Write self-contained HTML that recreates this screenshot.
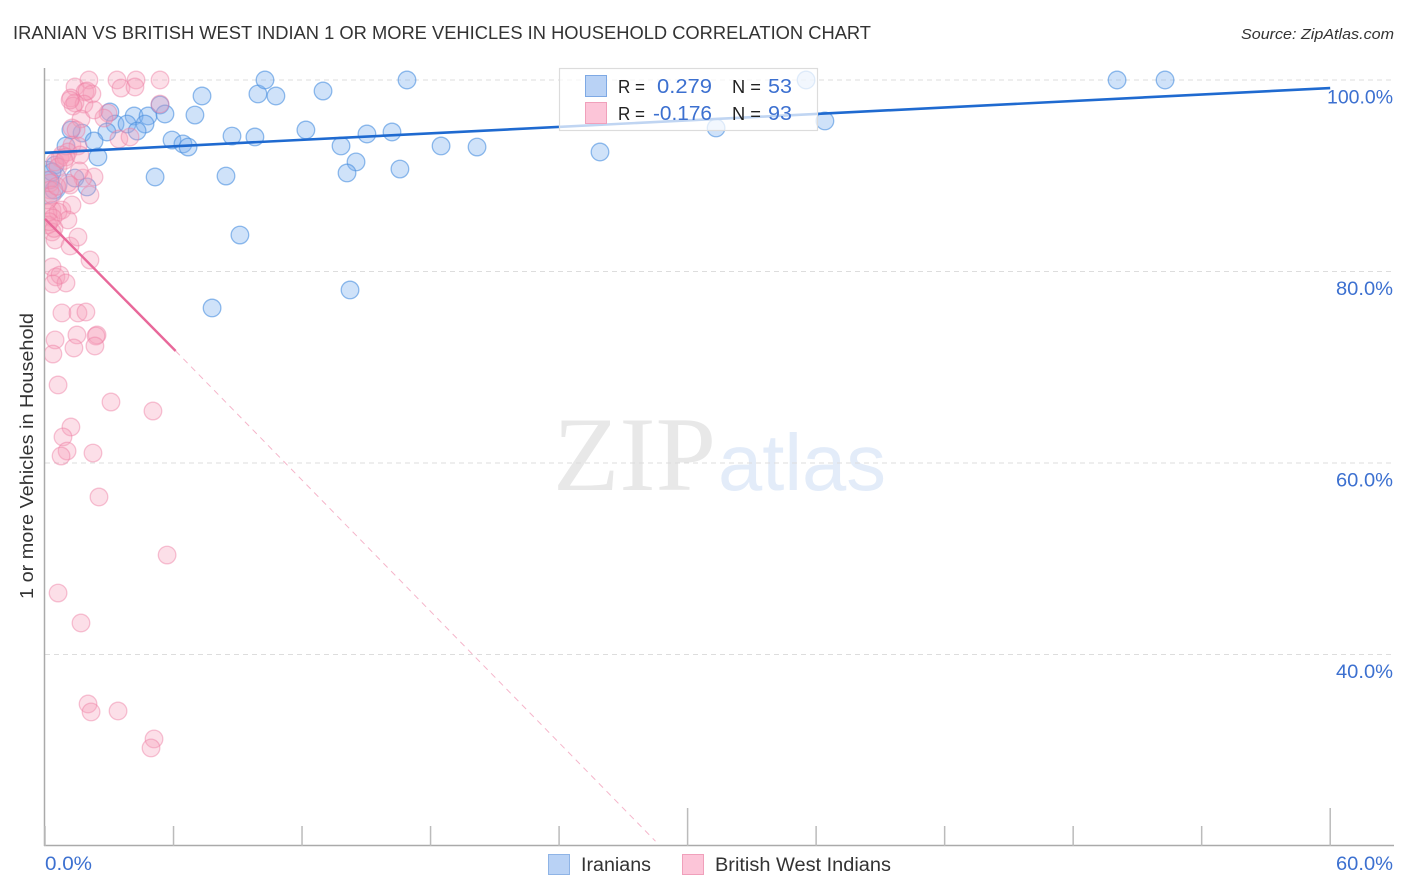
<!DOCTYPE html>
<html lang="en">
<head>
<meta charset="utf-8">
<title>Iranian vs British West Indian 1 or more Vehicles in Household Correlation Chart</title>
<style>
html,body{margin:0;padding:0;background:#fff;}
svg{display:block;font-family:"Liberation Sans",sans-serif;}
</style>
</head>
<body>
<svg id="chart" xmlns="http://www.w3.org/2000/svg" width="1406" height="892" viewBox="0 0 1406 892">
  <defs>
    <clipPath id="plot-clip"><rect x="45" y="60" width="1349" height="786"/></clipPath>
  </defs>
  <rect x="0" y="0" width="1406" height="892" fill="#fff"/>
  <text x="13" y="39" font-size="18.5" fill="#333" textLength="858" lengthAdjust="spacingAndGlyphs">IRANIAN VS BRITISH WEST INDIAN 1 OR MORE VEHICLES IN HOUSEHOLD CORRELATION CHART</text>
  <text x="1241" y="39" font-size="15" font-style="italic" fill="#333" textLength="153" lengthAdjust="spacingAndGlyphs">Source: ZipAtlas.com</text>
  <g>
    <text x="553" y="490" font-family="'Liberation Serif',serif" font-size="106" fill="#e8e8e8" textLength="163" lengthAdjust="spacingAndGlyphs">ZIP</text>
    <text x="718" y="490" font-size="80" fill="#e3ecf9" textLength="168" lengthAdjust="spacingAndGlyphs">atlas</text>
  </g>
  <g id="grid"></g>
  <g id="axes"></g>
  <g id="points" clip-path="url(#plot-clip)"></g>
  <g id="trends"></g>
  <g id="tick-labels"></g>
  <text transform="translate(33,456) rotate(-90)" text-anchor="middle" font-size="18.5" fill="#333" textLength="286" lengthAdjust="spacingAndGlyphs">1 or more Vehicles in Household</text>

  <g>
    <rect x="559.5" y="68.5" width="258" height="62" fill="#fff" fill-opacity="0.72" stroke="#dcdcdc" stroke-width="1.2"/>
    <rect x="585.5" y="75.5" width="21" height="21" fill="#b9d2f5" stroke="#7ea9e4" stroke-width="1"/>
    <rect x="585.5" y="102.5" width="21" height="21" fill="#fcc5d8" stroke="#f0a0bb" stroke-width="1"/>
    <text x="618" y="93" font-size="18.5" fill="#222" textLength="27" lengthAdjust="spacingAndGlyphs">R =</text>
    <text x="657" y="93" font-size="20" fill="#3c70d0" textLength="55" lengthAdjust="spacingAndGlyphs">0.279</text>
    <text x="732" y="93" font-size="18.5" fill="#222" textLength="29" lengthAdjust="spacingAndGlyphs">N =</text>
    <text x="768" y="93" font-size="20" fill="#3c70d0" textLength="24" lengthAdjust="spacingAndGlyphs">53</text>
    <text x="618" y="120" font-size="18.5" fill="#222" textLength="27" lengthAdjust="spacingAndGlyphs">R =</text>
    <text x="653" y="120" font-size="20" fill="#3c70d0" textLength="59" lengthAdjust="spacingAndGlyphs">-0.176</text>
    <text x="732" y="120" font-size="18.5" fill="#222" textLength="29" lengthAdjust="spacingAndGlyphs">N =</text>
    <text x="768" y="120" font-size="20" fill="#3c70d0" textLength="24" lengthAdjust="spacingAndGlyphs">93</text>
  </g>

  <g>
    <rect x="548.5" y="854.5" width="21" height="20" fill="#b9d2f5" stroke="#8fb4e6" stroke-width="1"/>
    <text x="581" y="871" font-size="19" fill="#333" textLength="70" lengthAdjust="spacingAndGlyphs">Iranians</text>
    <rect x="682.5" y="854.5" width="21" height="20" fill="#fcc5d8" stroke="#f0a0bb" stroke-width="1"/>
    <text x="715" y="871" font-size="19" fill="#333" textLength="176" lengthAdjust="spacingAndGlyphs">British West Indians</text>
  </g>
</svg>
<script>
const iranianX = [3.03,4.16,4.81,3.27,3.83,4.67,4.3,2.89,1.73,1.21,2.29,5.93,6.44,6.68,5.37,5.6,7.0,7.33,9.94,10.78,10.27,12.98,16.9,35.53,50.05,52.29,8.73,9.8,12.18,15.03,16.2,13.82,14.52,14.1,16.57,18.49,20.17,25.91,31.33,36.41,2.47,0.98,0.47,1.4,1.96,5.14,8.45,9.1,14.24,7.8,0.23,0.42,0.33];
const iranianY = [96.66,96.24,96.24,95.4,95.4,95.4,94.67,94.57,94.46,94.78,93.63,93.73,93.32,93.0,97.39,96.45,96.34,98.33,98.54,98.33,100,98.85,100,100,100,100,94.15,94.05,94.78,94.36,94.57,93.11,91.44,90.29,90.7,93.11,93.0,92.48,94.99,95.72,91.96,93.11,91.12,89.76,88.83,89.87,89.97,83.81,78.07,76.19,89.56,88.51,90.39];
const iranianOutlierX = [0.05];
const iranianOutlierY = [89.3];
const britishX = [1.4,2.05,3.36,4.25,5.37,3.55,4.2,1.87,2.19,1.21,1.4,1.96,1.82,1.31,5.37,2.94,1.68,1.26,2.75,3.45,3.97,2.29,1.45,1.26,1.54,0.7,0.79,1.07,1.63,0.47,0.98,2.29,1.77,1.17,2.1,0.14,0.23,0.23,0.33,0.79,1.26,0.61,1.07,0.14,0.37,0.14,0.33,0.47,1.17,1.54,2.1,0.33,0.51,0.7,0.98,0.37,0.79,1.54,1.91,1.49,2.43,2.38,0.47,1.35,2.33,0.37,0.61,3.08,5.04,1.21,0.84,1.03,0.75,2.24,2.52,5.7,0.61,1.68,2.01,2.15,3.41,5.09,4.95,1.07,0.61,0.14,0.33,1.17,0.42,0.2,0.55,0.9,1.6];
const britishY = [99.27,100,100,100,100,99.16,99.27,98.75,98.54,98.12,97.6,98.85,97.49,97.28,97.49,96.55,95.93,94.99,96.03,93.84,94.05,96.87,94.78,93.21,93.11,91.85,92.17,92.48,92.17,91.44,91.96,89.87,89.76,89.03,87.99,89.56,89.24,88.51,86.42,86.42,86.95,86.21,85.38,86.11,85.59,84.86,84.13,83.29,82.66,83.6,81.2,80.47,79.43,79.63,78.8,78.7,75.67,75.67,75.77,73.37,73.37,73.26,72.85,72.01,72.22,71.38,68.15,66.37,65.43,63.76,62.72,61.25,60.73,61.04,56.45,50.39,46.42,43.29,34.83,34.0,34.1,31.18,30.24,89.24,90.91,87.47,87.99,97.9,84.5,85.2,88.9,91.6,90.5];
const iranianTrendX = [0, 60];
const iranianTrendY = [92.4, 99.16];
const britishTrendSolidX = [0, 6.1];
const britishTrendSolidY = [85.5, 71.7];
const britishTrendDashedX = [6.1, 28.5];
const britishTrendDashedY = [71.7, 20.5];
const yTicks = [100, 80, 60, 40];
const yTickLabels = ['100.0%', '80.0%', '60.0%', '40.0%'];
const xTicks = [0, 6, 12, 18, 24, 30, 36, 42, 48, 54, 60];
const xMajorTicks = [30, 60];
const xEndValues = [0, 60];
const xEndLabels = ['0.0%', '60.0%'];

const NS = 'http://www.w3.org/2000/svg';
function xScale(v) { return 45 + v * 21.42; }
function yScale(v) { return 80 + (100 - v) * 9.575; }
function make(tag, attrs, parent) {
  const el = document.createElementNS(NS, tag);
  for (const k in attrs) el.setAttribute(k, attrs[k]);
  parent.appendChild(el);
  return el;
}

const grid = document.getElementById('grid');
yTicks.forEach(function (t) {
  const line = make('line', {x1: 45, x2: 1394, y1: yScale(t), y2: yScale(t), stroke: '#dddddd', 'stroke-width': 1, 'stroke-dasharray': '5 4'}, grid);
  
  
});

const axes = document.getElementById('axes');
const yAxisLine = make('line', {x1: 44.5, x2: 44.5, y1: 68, y2: 846, stroke: '#aaaaaa', 'stroke-width': 1.5}, axes);


const xAxisLine = make('line', {x1: 44, x2: 1394, y1: 845.5, y2: 845.5, stroke: '#aaaaaa', 'stroke-width': 1.5}, axes);


xTicks.forEach(function (t) {
  const top = xMajorTicks.indexOf(t) >= 0 ? 808 : 826;
  const tick = make('line', {x1: xScale(t), x2: xScale(t), y1: top, y2: 846, stroke: '#bbbbbb', 'stroke-width': 1.5}, axes);
  
  
});

const points = document.getElementById('points');
function drawSeries(xs, ys, fill, stroke, fillOpacity, strokeOpacity, radius, name) {
  xs.forEach(function (x, i) {
    const c = make('circle', {cx: xScale(x), cy: yScale(ys[i]), r: radius, fill: fill, 'fill-opacity': fillOpacity, stroke: stroke, 'stroke-opacity': strokeOpacity, 'stroke-width': 1.3}, points);
    
    
  });
}
drawSeries(iranianX, iranianY, '#7ab0ee', '#4a8fe0', 0.36, 0.6, 8.8, 'iranian-point');
drawSeries(iranianOutlierX, iranianOutlierY, '#7ab0ee', '#4a8fe0', 0.25, 0.55, 21, 'iranian-large-point');
drawSeries(britishX, britishY, '#f79ab9', '#ee7ea3', 0.32, 0.46, 8.8, 'british-west-indian-point');

const trends = document.getElementById('trends');
function drawTrend(xs, ys, stroke, width, dash, name) {
  const line = make('line', {x1: xScale(xs[0]), y1: yScale(ys[0]), x2: xScale(xs[1]), y2: yScale(ys[1]), stroke: stroke, 'stroke-width': width}, trends);
  if (dash) line.setAttribute('stroke-dasharray', dash);
  
  
}
drawTrend(iranianTrendX, iranianTrendY, '#1f6ad0', 2.6, null, 'iranian-trend-line');
drawTrend(britishTrendSolidX, britishTrendSolidY, '#e8689a', 2.4, null, 'british-west-indian-trend-line');
drawTrend(britishTrendDashedX, britishTrendDashedY, '#f5b5ca', 1, '6 5', 'british-west-indian-trend-extension');

const labels = document.getElementById('tick-labels');
yTicks.forEach(function (t, i) {
  const text = yTickLabels[i];
  const w = text.length === 6 ? 66 : 57;
  const el = make('text', {x: 1393 - w, y: yScale(t) + 23.4, 'font-size': 19.5, fill: '#3c70d0', textLength: w, lengthAdjust: 'spacingAndGlyphs'}, labels);
  el.textContent = text;
  
  
});
xEndValues.forEach(function (v, i) {
  const text = xEndLabels[i];
  const w = text.length === 4 ? 47 : 57;
  const left = i === 0 ? xScale(v) : 1393 - w;
  const el = make('text', {x: left, y: 870, 'font-size': 19.5, fill: '#3c70d0', textLength: w, lengthAdjust: 'spacingAndGlyphs'}, labels);
  el.textContent = text;
  
  
});
</script>
</body>
</html>
